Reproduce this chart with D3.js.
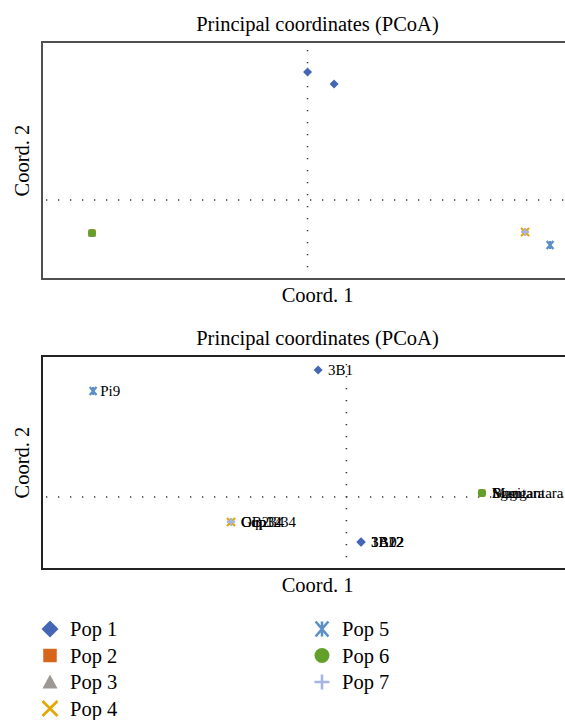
<!DOCTYPE html>
<html>
<head>
<meta charset="utf-8">
<script src="https://cdn.jsdelivr.net/npm/d3@7"></script>
<style>
body { margin:0; background:#fff; }
svg { display:block; font-family:"Liberation Serif", "DejaVu Serif", serif; }
</style>
</head>
<body>
<div id="chart"></div>
<script>
// populations and colours
var pops = ["Pop 1","Pop 2","Pop 3","Pop 4","Pop 5","Pop 6","Pop 7"];
var popColors = ["#4466b5","#d6661c","#9e9894","#e6a600","#5b8fc8","#62a02a","#a6b4e6"];
var popShapes = ["diamond","square","triangle","x","star","circle","plus"];

// top PCoA
var topPop = [1, 1, 2, 3, 6, 4, 7, 5];
var topX   = [0.0, 0.12, -0.974, -0.974, -0.974, 0.983, 0.983, 1.096];
var topY   = [0.81, 0.734, -0.209, -0.209, -0.209, -0.202, -0.202, -0.285];

// bottom PCoA, labelled
var botPop   = [5, 1, 4, 7, 7, 1, 1, 1, 2, 6, 6];
var botX     = [-0.832, -0.093, -0.379, -0.379, -0.379, 0.048, 0.048, 0.048, 0.445, 0.445, 0.445];
var botY     = [0.737, 0.883, -0.173, -0.173, -0.173, -0.312, -0.312, -0.312, 0.028, 0.028, 0.028];
var botLabel = ["Pi9", "3B1", "Cqp1234", "Gup34", "OB234", "3A02", "1B12", "3B22", "Sgentara", "Mangantara", "Bugi"];

var svg = d3.select("#chart").append("svg")
	.attr("width",565)
	.attr("height",720);

function shapePath(shape, s) {
	var h = s/2;
	if (shape=="diamond") return "M0,"+(-h)+"L"+h+",0L0,"+h+"L"+(-h)+",0Z";
	if (shape=="square") { var q=h*0.9; return "M"+(-q)+","+(-q)+"h"+(2*q)+"v"+(2*q)+"h"+(-2*q)+"Z"; }
	if (shape=="triangle") return "M0,"+(-h)+"L"+h+","+(h*0.85)+"L"+(-h)+","+(h*0.85)+"Z";
	if (shape=="circle") return d3.symbol(d3.symbolCircle, Math.PI*h*h)();
	if (shape=="x") return "M"+(-h)+","+(-h)+"L"+h+","+h+"M"+h+","+(-h)+"L"+(-h)+","+h;
	if (shape=="plus") return "M"+(-h)+",0H"+h+"M0,"+(-h)+"V"+h;
	if (shape=="star") { var a=h*0.85; return "M"+(-a)+","+(-h)+"L"+a+","+h+"M"+a+","+(-h)+"L"+(-a)+","+h+"M0,"+(-h)+"V"+h; }
}
function isLine(shape) { return shape=="x" || shape=="plus" || shape=="star"; }

function drawMarker(g, p, x, y, s) {
	var shape = popShapes[p-1], col = popColors[p-1];
	var m = g.append("path")
		.attr("d", shapePath(shape, s))
		.attr("transform","translate("+x+","+y+")");
	if (isLine(shape)) m.attr("fill","none").attr("stroke",col).attr("stroke-width", s>12 ? 2.6 : 2.2);
	else m.attr("fill",col);
}

var render_pcoa = (box, xDom, yDom, P, X, Y, L) => {
	var xscale = d3.scaleLinear().domain(xDom).range([box.left, box.right]);
	var yscale = d3.scaleLinear().domain(yDom).range([box.bottom, box.top]);
	var g = svg.append("g");

	// dotted cross through origin
	g.append("line")
		.attr("x1",box.left+4).attr("x2",box.right)
		.attr("y1",yscale(0)).attr("y2",yscale(0))
		.attr("stroke","#333").attr("stroke-width",1.5)
		.attr("stroke-dasharray","1.3,10.7");
	g.append("line")
		.attr("x1",xscale(0)).attr("x2",xscale(0))
		.attr("y1",box.top+8).attr("y2",box.bottom)
		.attr("stroke","#333").attr("stroke-width",1.5)
		.attr("stroke-dasharray","1.3,10.7");

	g.append("rect")
		.attr("x",box.left).attr("y",box.top)
		.attr("width",box.right-box.left).attr("height",box.bottom-box.top)
		.attr("fill","none").attr("stroke",box.frame).attr("stroke-width",2);

	P.forEach((p,i) => drawMarker(g, p, xscale(X[i]), yscale(Y[i]), p==1 ? 9 : 8));

	if (L) {
		g.selectAll("text.lab").data(L).enter().append("text")
			.attr("class","lab")
			.attr("x",(d,i)=>xscale(X[i])+(P[i]==5 ? 7 : 10))
			.attr("y",(d,i)=>yscale(Y[i])+5)
			.attr("font-size",15)
			.attr("fill","#000")
			.text(d=>d);
	}

	var cx = (box.left+box.right)/2;
	g.append("text").attr("x",cx).attr("y",box.top-11)
		.attr("text-anchor","middle").attr("font-size",20.5)
		.text("Principal coordinates (PCoA)");
	g.append("text").attr("x",cx).attr("y",box.bottom+23)
		.attr("text-anchor","middle").attr("font-size",20.5)
		.text("Coord. 1");
	g.append("text")
		.attr("transform","translate(29,"+((box.top+box.bottom)/2)+") rotate(-90)")
		.attr("text-anchor","middle").attr("font-size",20.5)
		.text("Coord. 2");
};

render_pcoa({left:42,right:593,top:42,bottom:279,frame:"#505050"}, [-1.2,1.29], [-0.5,1.0], topPop, topX, topY, null);
render_pcoa({left:42,right:593,top:356,bottom:569,frame:"#222"}, [-1.0,0.81], [-0.5,0.98], botPop, botX, botY, botLabel);

// legend
var leg = svg.append("g");
pops.forEach((name,i) => {
	var col = i<4 ? 0 : 1, row = i<4 ? i : i-4;
	var lx = col==0 ? 50 : 322, ly = 629 + row*26.5;
	drawMarker(leg, i+1, lx, ly, i==0 ? 17 : 15);
	leg.append("text").attr("x",lx+20).attr("y",ly+7)
		.attr("font-size",20.5).text(name);
});
</script>
</body>
</html>
